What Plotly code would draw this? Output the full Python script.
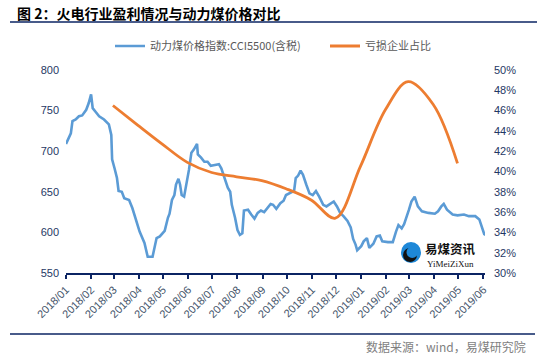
import plotly.graph_objects as go

# ---- data ----
coal_dates = [
    "2018-01-01","2018-01-07","2018-01-09","2018-01-13","2018-01-17","2018-01-21","2018-01-26","2018-01-29",
    "2018-02-01","2018-02-03","2018-02-07","2018-02-11","2018-02-17","2018-02-23","2018-02-26","2018-02-27",
    "2018-03-02","2018-03-05","2018-03-07","2018-03-11","2018-03-14","2018-03-20","2018-03-24","2018-03-28",
    "2018-04-02","2018-04-08","2018-04-12","2018-04-18","2018-04-23","2018-04-27",
    "2018-05-03","2018-05-07","2018-05-09","2018-05-12","2018-05-15","2018-05-17","2018-05-20","2018-05-22",
    "2018-05-24","2018-05-27","2018-05-30",
    "2018-06-02","2018-06-05","2018-06-08","2018-06-12","2018-06-13","2018-06-17","2018-06-21","2018-06-25","2018-06-29",
    "2018-07-04","2018-07-09","2018-07-12","2018-07-16","2018-07-20","2018-07-23","2018-07-25","2018-07-29",
    "2018-08-01","2018-08-04","2018-08-07","2018-08-09","2018-08-14","2018-08-18","2018-08-22","2018-08-26","2018-08-30",
    "2018-09-03","2018-09-07","2018-09-11","2018-09-14","2018-09-18","2018-09-23","2018-09-27","2018-09-30",
    "2018-10-05","2018-10-10","2018-10-12","2018-10-15","2018-10-18","2018-10-21","2018-10-25","2018-10-29",
    "2018-11-02","2018-11-06","2018-11-10","2018-11-15","2018-11-19","2018-11-23","2018-11-28",
    "2018-12-02","2018-12-06","2018-12-10","2018-12-15","2018-12-19","2018-12-22","2018-12-25","2018-12-27",
    "2019-01-01","2019-01-04","2019-01-08","2019-01-11","2019-01-16","2019-01-20","2019-01-24","2019-01-27",
    "2019-02-03","2019-02-09","2019-02-13","2019-02-16","2019-02-20","2019-02-23",
    "2019-03-01","2019-03-04","2019-03-08","2019-03-12","2019-03-17","2019-03-25",
    "2019-04-02","2019-04-06","2019-04-10","2019-04-13","2019-04-17","2019-04-24","2019-04-30",
    "2019-05-08","2019-05-14","2019-05-22","2019-05-27","2019-05-30","2019-06-02","2019-06-04",
]
coal_price = [
    709,722,737,739,743,744,751,759,
    770,753,748,743,739,733,720,690,
    679,667,651,650,642,640,630,616,
    601,587,570,570,593,595,
    602,618,623,640,646,659,666,659,
    646,644,659,
    677,698,702,709,696,692,687,687,682,
    683,684,679,667,655,650,634,618,
    603,597,599,627,628,622,617,624,627,
    625,630,635,634,629,636,639,646,
    648,651,667,670,676,671,659,648,
    646,651,644,634,632,635,638,
    632,624,620,614,606,592,585,578,
    583,589,593,581,586,595,596,589,
    588,588,601,609,605,610,
    628,638,644,632,626,624,
    623,626,632,635,628,622,621,
    622,620,620,616,607,598,597,
]

loss_dates = [
    "2018-02-28","2018-03-31","2018-04-30","2018-05-31","2018-06-30","2018-07-31","2018-08-31",
    "2018-09-30","2018-10-31","2018-11-30","2018-12-31","2019-01-31","2019-02-28","2019-03-31","2019-04-30",
]
loss_ratio = [
    0.465,0.4455,0.427,0.409,0.399,0.3948,0.391,
    0.383,0.372,0.354,0.405,0.461,0.4885,0.466,0.408,
]

tick_vals = ["2018-01-01","2018-02-01","2018-03-01","2018-04-01","2018-05-01","2018-06-01",
             "2018-07-01","2018-08-01","2018-09-01","2018-10-01","2018-11-01","2018-12-01",
             "2019-01-01","2019-02-01","2019-03-01","2019-04-01","2019-05-01","2019-06-01"]
tick_text = ["2018/01","2018/02","2018/03","2018/04","2018/05","2018/06","2018/07","2018/08",
             "2018/09","2018/10","2018/11","2018/12","2019/01","2019/02","2019/03","2019/04",
             "2019/05","2019/06"]

NAVY = "#0B2463"
FONT = "Liberation Sans, Noto Sans CJK SC, sans-serif"
CJK = "Noto Sans CJK SC, sans-serif"

fig = go.Figure()
fig.add_trace(go.Scatter(x=coal_dates, y=coal_price, mode="lines",
                         name="动力煤价格指数:CCI5500(含税)", legend="legend",
                         line=dict(color="#5B9BD5", width=2.6)))
fig.add_trace(go.Scatter(x=loss_dates, y=loss_ratio, mode="lines", yaxis="y2",
                         name="亏损企业占比", legend="legend2",
                         line=dict(color="#ED7D31", width=2.8, shape="spline", smoothing=1.0)))

L, R, T, B = 66, 52, 70, 86
W, H = 537, 359
pw, ph = W - L - R, H - T - B

def px(x):
    return (x - L) / pw

def py(y):
    return (H - B - y) / ph

leg_common = dict(orientation="h", yanchor="middle", xanchor="left",
                  font=dict(family=CJK, size=11, color="#595959"),
                  itemwidth=30, bgcolor="rgba(0,0,0,0)")

fig.update_layout(
    width=W, height=H,
    margin=dict(l=L, r=R, t=T, b=B),
    paper_bgcolor="white", plot_bgcolor="white",
    font=dict(family=FONT),
    showlegend=True,
    legend=dict(x=px(110), y=py(46), **leg_common),
    legend2=dict(x=px(325), y=py(46), **leg_common),
    xaxis=dict(type="date", range=["2018-01-01", "2019-06-03"], automargin=False,
               tickvals=tick_vals, ticktext=tick_text, tickangle=-45,
               showline=True, linecolor=NAVY, linewidth=2,
               ticks="outside", ticklen=4, tickwidth=2, tickcolor=NAVY,
               showgrid=False, zeroline=False,
               tickfont=dict(family=FONT, size=11, color="#44546A")),
    yaxis=dict(range=[550, 800], dtick=50, showgrid=False, zeroline=False,
               showline=False, ticks="", automargin=False,
               ticklabelstandoff=6,
               tickfont=dict(family=FONT, size=11, color="#1F3864")),
    yaxis2=dict(range=[0.30, 0.50], dtick=0.02, tickformat=".0%", overlaying="y", side="right",
                showgrid=False, zeroline=False, showline=False, ticks="", automargin=False,
                ticklabelstandoff=8,
                tickfont=dict(family=FONT, size=11, color="#1F3864")),
    title=dict(text="<b>图 2：火电行业盈利情况与动力煤价格对比</b>", x=17 / W, xanchor="left",
               y=1 - 14 / H, yanchor="middle", font=dict(family=CJK, size=14, color="#000000")),
)

# header and footer rules
fig.add_shape(type="line", xref="paper", yref="paper", x0=px(10), x1=px(537), y0=py(22), y1=py(22),
              line=dict(color=NAVY, width=1.5))
fig.add_shape(type="line", xref="paper", yref="paper", x0=px(10), x1=px(535), y0=py(334), y1=py(334),
              line=dict(color=NAVY, width=1.5))
fig.add_annotation(text="数据来源：wind，易煤研究院", xref="paper", yref="paper",
                   x=px(528), y=py(346), xanchor="right", yanchor="middle", showarrow=False,
                   font=dict(family=CJK, size=12, color="#7F7F7F"))

# logo
fig.add_shape(type="circle", xref="paper", yref="paper", x0=px(401), x1=px(421), y0=py(263), y1=py(242),
              fillcolor="#1E88D8", line=dict(width=0))
fig.add_shape(type="circle", xref="paper", yref="paper", x0=px(403), x1=px(417), y0=py(262), y1=py(248),
              fillcolor="#111111", line=dict(width=0))
fig.add_shape(type="circle", xref="paper", yref="paper", x0=px(406.5), x1=px(418), y0=py(258), y1=py(246.5),
              fillcolor="#1E88D8", line=dict(width=0))
fig.add_annotation(text="<b>易煤资讯</b>", xref="paper", yref="paper", x=px(450), y=py(248),
                   xanchor="center", yanchor="middle", borderpad=0,
                   showarrow=False, font=dict(family=CJK, size=12.5, color="#111111"))
fig.add_annotation(text="YiMeiZiXun", xref="paper", yref="paper", x=px(450), y=py(264),
                   xanchor="center", yanchor="middle", borderpad=0,
                   showarrow=False, font=dict(family="Liberation Serif, serif", size=9, color="#111111"))

fig.write_html("out.html", config={"displayModeBar": False},
               post_script="document.body.style.margin='0px';")
